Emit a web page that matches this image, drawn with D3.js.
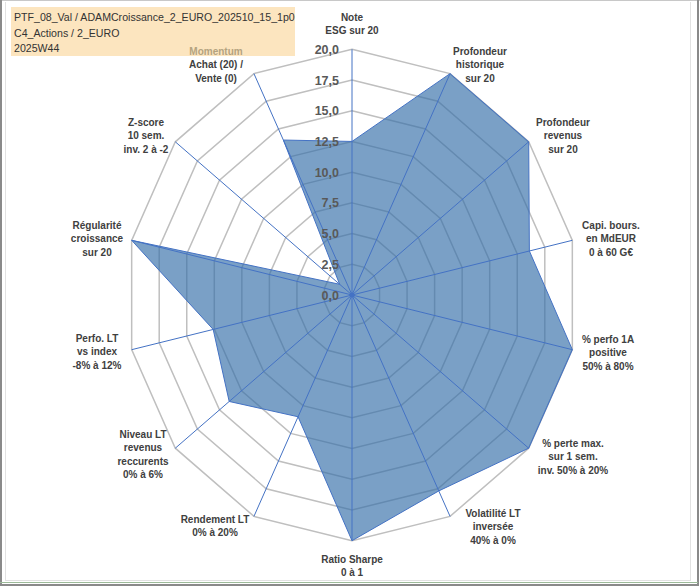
<!DOCTYPE html>
<html>
<head>
<meta charset="utf-8">
<script src="https://cdn.jsdelivr.net/npm/d3@7"></script>
<style>
  body { margin: 0; background: #fff; }
  svg { display: block; }
</style>
</head>
<body>
<div id="chart"></div>
<script>
// axis labels, clockwise from the top
var axisLabels = [
  ["Note", "ESG sur 20"],
  ["Profondeur", "historique", "sur 20"],
  ["Profondeur", "revenus", "sur 20"],
  ["Capi. bours.", "en MdEUR", "0 à 60 G€"],
  ["% perfo 1A", "positive", "50% à 80%"],
  ["% perte max.", "sur 1 sem.", "inv. 50% à 20%"],
  ["Volatilité LT", "inversée", "40% à 0%"],
  ["Ratio Sharpe", "0 à 1"],
  ["Rendement LT", "0% à 20%"],
  ["Niveau LT", "revenus", "reccurents", "0% à 6%"],
  ["Perfo. LT", "vs index", "-8% à 12%"],
  ["Régularité", "croissance", "sur 20"],
  ["Z-score", "10 sem.", "inv. 2 à -2"],
  ["Momentum", "Achat (20) /", "Vente (0)"]
];
var scores = [12.5, 20, 20, 16.1, 20, 20, 17.7, 20, 11.0, 13.9, 12.6, 20, 1.4, 14.0];
var tickValues = [0, 2.5, 5, 7.5, 10, 12.5, 15, 17.5, 20];
var titleLines = ["PTF_08_Val / ADAMCroissance_2_EURO_202510_15_1p0", "C4_Actions / 2_EURO", "2025W44"];

var width = 700, height = 586;
var cx = 352, cy = 295;
var n = axisLabels.length;

var svg = d3.select("#chart").append("svg")
  .attr("width", width)
  .attr("height", height);

// frame (sheet borders)
svg.append("rect").attr("x", 0).attr("y", 0).attr("width", width).attr("height", height).attr("fill", "#fff");
svg.append("line").attr("x1", 0).attr("x2", 700).attr("y1", 0.5).attr("y2", 0.5).attr("stroke", "#c8c8c8");
svg.append("line").attr("x1", 1).attr("x2", 1).attr("y1", 0).attr("y2", 586).attr("stroke", "#8a8a8a").attr("stroke-width", 2);
svg.append("line").attr("x1", 5.5).attr("x2", 5.5).attr("y1", 2).attr("y2", 580).attr("stroke", "#e2e2e2");
svg.append("line").attr("x1", 690.5).attr("x2", 690.5).attr("y1", 2).attr("y2", 580).attr("stroke", "#e2e2e2");
svg.append("line").attr("x1", 698).attr("x2", 698).attr("y1", 0).attr("y2", 586).attr("stroke", "#8a8a8a").attr("stroke-width", 2);
svg.append("line").attr("x1", 5).attr("x2", 691).attr("y1", 580.5).attr("y2", 580.5).attr("stroke", "#e2e2e2");
svg.append("line").attr("x1", 0).attr("x2", 698).attr("y1", 582.5).attr("y2", 582.5).attr("stroke", "#9dbb9a");
svg.append("line").attr("x1", 0).attr("x2", 698).attr("y1", 585).attr("y2", 585).attr("stroke", "#8a8a8a").attr("stroke-width", 2);

// title box (behind the labels: "Momentum" sits on it)
svg.append("rect")
  .attr("x", 11).attr("y", 7).attr("width", 284).attr("height", 49)
  .attr("fill", "#fce5bf");
svg.selectAll(".title")
  .data(titleLines)
  .enter().append("text")
  .attr("class", "title")
  .attr("x", 14)
  .attr("y", function (d, i) { return 17 + i * 15.8; })
  .attr("dy", "0.35em")
  .attr("font-family", "Liberation Sans, Arial, sans-serif")
  .attr("font-size", "10.6px")
  .attr("fill", "#333")
  .text(function (d) { return d; });

// the picture is a bit squeezed horizontally, so two radii
var rx = d3.scaleLinear().domain([0, 20]).range([0, 226]);
var ry = d3.scaleLinear().domain([0, 20]).range([0, 245.7]);
var angle = d3.scaleLinear().domain([0, n]).range([0, 2 * Math.PI]);

function px(i, v) { return cx + rx(v) * Math.sin(angle(i)); }
function py(i, v) { return cy - ry(v) * Math.cos(angle(i)); }

var g = svg.append("g");

// grid rings
tickValues.slice(1).forEach(function (t) {
  var pts = d3.range(n).map(function (i) { return [px(i, t), py(i, t)]; });
  g.append("path")
    .attr("d", d3.line().curve(d3.curveLinearClosed)(pts))
    .attr("fill", "none")
    .attr("stroke", "#bfbfbf")
    .attr("stroke-width", 1.5);
});

// series area
var area = d3.line()
  .x(function (d, i) { return px(i, d); })
  .y(function (d, i) { return py(i, d); })
  .curve(d3.curveLinearClosed);

g.append("path")
  .datum(scores)
  .attr("d", area)
  .attr("fill", "rgb(53,111,169)")
  .attr("fill-opacity", 0.66)
  .attr("stroke", "#4472c4")
  .attr("stroke-width", 1);

// spokes
g.selectAll(".spoke")
  .data(d3.range(n))
  .enter().append("line")
  .attr("class", "spoke")
  .attr("x1", cx).attr("y1", cy)
  .attr("x2", function (i) { return px(i, 20); })
  .attr("y2", function (i) { return py(i, 20); })
  .attr("stroke", "#4472c4")
  .attr("stroke-width", 1);

g.append("circle").attr("cx", cx).attr("cy", cy).attr("r", 2.5).attr("fill", "#4472c4");

// value ticks
var fmt = d3.format(".1f");
g.selectAll(".tick")
  .data(tickValues)
  .enter().append("text")
  .attr("class", "tick")
  .attr("x", cx - 13)
  .attr("y", function (d) { return py(0, d); })
  .attr("dy", "0.36em")
  .attr("text-anchor", "end")
  .attr("font-family", "Liberation Sans, Arial, sans-serif")
  .attr("font-weight", "bold")
  .attr("font-size", "12.5px")
  .attr("fill", "#595959")
  .text(function (d) { return fmt(d).replace(".", ","); });

// category labels (centre of each block)
var labelPos = [
  [352, 17], [480, 51], [563, 122], [611, 225], [608, 339], [573, 443], [493, 513],
  [352, 559], [215, 519], [143, 434], [97, 338], [97, 225], [146, 122], [216, 51]
];
axisLabels.forEach(function (lines, i) {
  var t = svg.append("text")
    .attr("text-anchor", "middle")
    .attr("font-family", "Liberation Sans, Arial, sans-serif")
    .attr("font-weight", "bold")
    .attr("font-size", "10px")
    .attr("fill", "#404040");
  lines.forEach(function (s, k) {
    t.append("tspan")
      .attr("x", labelPos[i][0])
      .attr("y", labelPos[i][1] + k * 13.5)
      .attr("dy", "0.35em")
      .attr("fill", (i === 13 && k === 0) ? "#b4a37f" : null)
      .text(s);
  });
});
</script>
</body>
</html>
